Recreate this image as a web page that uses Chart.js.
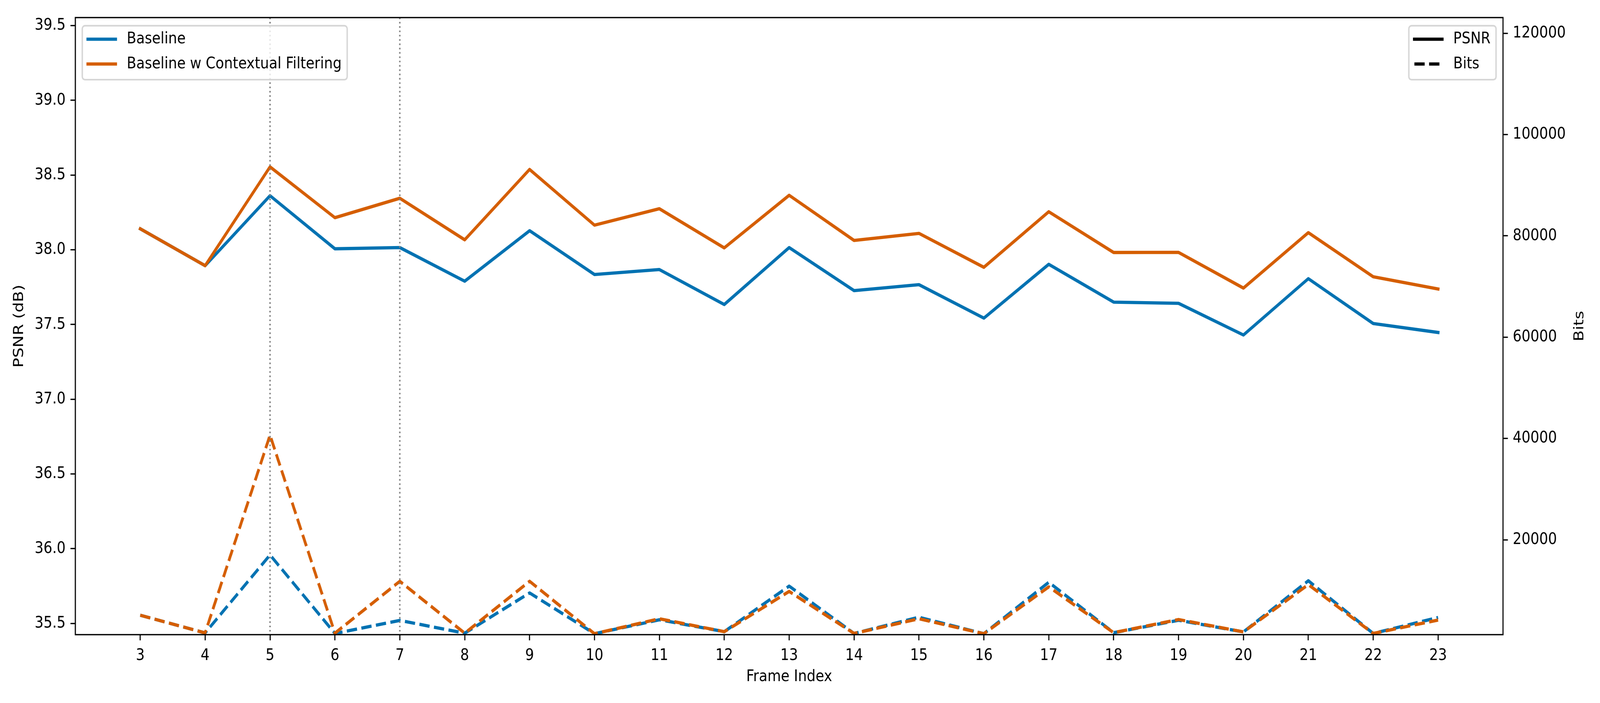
<!DOCTYPE html>
<html>
<head>
<meta charset="utf-8">
<script src="https://cdn.jsdelivr.net/npm/chart.js@4.4.1/dist/chart.umd.min.js"></script>
<style>
    html, body { margin: 0; padding: 0; background: #fff; overflow: hidden; }
    /* the drawing is made at 4800x1800 and shown at whatever size the window has */
    #psnrChart { display: block; width: 100vw !important; height: 100vh !important; }
</style>
</head>
<body>
<canvas id="psnrChart" width="4800" height="1800" style="display:block;width:100vw;height:100vh"></canvas>
<script>
const frames = [3, 4, 5, 6, 7, 8, 9, 10, 11, 12, 13, 14, 15, 16, 17, 18, 19, 20, 21, 22, 23];
const baselinePsnr = [38.141, 37.894, 38.362, 38.007, 38.015, 37.790, 38.128, 37.835, 37.868, 37.634, 38.015,
    37.727, 37.767, 37.543, 37.903, 37.650, 37.642, 37.430, 37.807, 37.507, 37.447];
const filteredPsnr = [38.141, 37.894, 38.555, 38.215, 38.345, 38.067, 38.538, 38.165, 38.275, 38.013, 38.365,
    38.063, 38.110, 37.883, 38.255, 37.982, 37.983, 37.744, 38.115, 37.820, 37.738];
const baselineBits = [5100, 1600, 17000, 1500, 4070, 1550, 9500, 1450, 4200, 1850, 10850,
    1500, 4700, 1450, 11600, 1650, 4100, 1800, 11900, 1500, 4650];
const filteredBits = [5100, 1600, 40650, 1550, 11800, 1550, 11800, 1450, 4400, 1850, 9800,
    1500, 4400, 1450, 10700, 1650, 4250, 1800, 11150, 1500, 4150];
const psnrTicks = [35.5, 36.0, 36.5, 37.0, 37.5, 38.0, 38.5, 39.0, 39.5];
const bitsTicks = [20000, 40000, 60000, 80000, 100000, 120000];
const markedFrames = [5, 7];
const seriesNames = ["Baseline", "Baseline w Contextual Filtering"];
const metricNames = ["PSNR", "Bits"];

const PT = 300 / 72;          // figure was saved at 300 dpi
const FS = 10 * PT;           // 10pt text
const LW = 2 * PT;            // line width
const DASH = [3.7 * LW, 1.6 * LW];
const BLUE = "#0072B2";
const ORANGE = "#D55E00";

Chart.defaults.font.family = "'DejaVu Sans', sans-serif";
Chart.defaults.font.size = FS;
Chart.defaults.color = "#000";

const pts = (ys) => frames.map((f, i) => ({ x: f, y: ys[i] }));

function lineSet(label, ys, color, axis, dashed, order) {
    return {
        label: label,
        data: pts(ys),
        yAxisID: axis,
        borderColor: color,
        backgroundColor: color,
        borderWidth: LW,
        borderDash: dashed ? DASH : [],
        borderCapStyle: dashed ? "butt" : "square",
        borderJoinStyle: "round",
        pointRadius: 0,
        tension: 0,
        fill: false,
        clip: 0,
        order: order,
    };
}

const axisGrid = {
    drawOnChartArea: false,
    drawTicks: true,
    tickLength: 3.5 * PT,
    tickWidth: 0.8 * PT,
    tickColor: "#000",
    color: "#000",
};

// dotted markers, frame box, right axis label and the two legends
const decorations = {
    id: "decorations",
    afterDatasetsDraw(chart) {
        const ctx = chart.ctx;
        const area = chart.chartArea;
        const x = chart.scales.x;
        ctx.save();
        ctx.strokeStyle = "gray";
        ctx.lineWidth = PT;
        ctx.setLineDash([PT, 1.65 * PT]);
        markedFrames.forEach((f) => {
            const px = x.getPixelForValue(f);
            ctx.beginPath();
            ctx.moveTo(px, area.top);
            ctx.lineTo(px, area.bottom);
            ctx.stroke();
        });
        ctx.setLineDash([]);
        ctx.strokeStyle = "#000";
        ctx.lineWidth = 0.8 * PT;
        ctx.strokeRect(area.left, area.top, area.right - area.left, area.bottom - area.top);
        ctx.restore();
    },
    afterDraw(chart) {
        const ctx = chart.ctx;
        const area = chart.chartArea;
        const pad = 0.4 * FS, gap = 0.5 * FS, hl = 2 * FS, htp = 0.8 * FS;
        ctx.save();
        ctx.font = FS + "px 'DejaVu Sans'";
        ctx.fillStyle = "#000";

        // matplotlib twin-axis label reads bottom to top
        ctx.save();
        ctx.translate(chart.scales.y1.right - 61, (area.top + area.bottom) / 2);
        ctx.rotate(-Math.PI / 2);
        ctx.textAlign = "center";
        ctx.textBaseline = "middle";
        ctx.fillText(metricNames[1], 0, 0);
        ctx.restore();

        ctx.textBaseline = "middle";
        function box(items, right) {
            const tw = Math.max(...items.map((it) => ctx.measureText(it.label).width));
            const w = pad + hl + htp + tw + pad;
            const h = 138.2;
            const x0 = right ? area.right - gap - w : area.left + gap;
            const y0 = area.top + gap;
            ctx.beginPath();
            ctx.roundRect(x0, y0, w, h, 8);
            ctx.fillStyle = "rgba(255,255,255,0.8)";
            ctx.fill();
            ctx.strokeStyle = "rgba(204,204,204,0.8)";
            ctx.lineWidth = PT;
            ctx.stroke();
            items.forEach((it, i) => {
                const cy = y0 + 34.5 + i * 63.5;
                ctx.beginPath();
                ctx.strokeStyle = it.color;
                ctx.lineWidth = LW;
                ctx.setLineDash(it.dashed ? DASH : []);
                ctx.lineCap = it.dashed ? "butt" : "square";
                ctx.moveTo(x0 + pad, cy);
                ctx.lineTo(x0 + pad + hl, cy);
                ctx.stroke();
                ctx.setLineDash([]);
                ctx.fillStyle = "#000";
                ctx.fillText(it.label, x0 + pad + hl + htp, cy);
            });
        }

        box([
            { label: seriesNames[0], color: BLUE, dashed: false },
            { label: seriesNames[1], color: ORANGE, dashed: false },
        ], false);
        box([
            { label: metricNames[0], color: "#000", dashed: false },
            { label: metricNames[1], color: "#000", dashed: true },
        ], true);
        ctx.restore();
    },
};

new Chart(document.getElementById("psnrChart"), {
    type: "line",
    data: {
        datasets: [
            lineSet(seriesNames[0] + " " + metricNames[0], baselinePsnr, BLUE, "y", false, 1),
            lineSet(seriesNames[1] + " " + metricNames[0], filteredPsnr, ORANGE, "y", false, 0),
            lineSet(seriesNames[0] + " " + metricNames[1], baselineBits, BLUE, "y1", true, 1),
            lineSet(seriesNames[1] + " " + metricNames[1], filteredBits, ORANGE, "y1", true, 0),
        ],
    },
    plugins: [decorations],
    options: {
        responsive: false,
        devicePixelRatio: 1,
        animation: false,
        layout: { padding: { top: 45, left: 0, right: 0, bottom: 0 } },
        scales: {
            x: {
                type: "linear",
                position: "bottom",
                min: 2,
                max: 24,
                afterBuildTicks: (axis) => { axis.ticks = frames.map((v) => ({ value: v })); },
                afterFit: (axis) => { axis.height = 175; },
                grid: axisGrid,
                border: { display: false },
                ticks: { padding: 3.5 * PT, maxRotation: 0, autoSkip: false, callback: (v) => String(v) },
                title: { display: true, text: "Frame Index", padding: { top: 0, bottom: 42 } },
            },
            y: {
                type: "linear",
                position: "left",
                min: 35.425,
                max: 39.554,
                afterBuildTicks: (axis) => { axis.ticks = psnrTicks.map((v) => ({ value: v })); },
                afterFit: (axis) => { axis.width = 226; },
                grid: axisGrid,
                border: { display: false },
                ticks: { padding: 3.5 * PT, callback: (v) => v.toFixed(1) },
                title: { display: true, text: "PSNR (dB)", padding: { top: 33, bottom: 0 } },
            },
            y1: {
                type: "linear",
                position: "right",
                min: 1262,
                max: 123100,
                afterBuildTicks: (axis) => { axis.ticks = bitsTicks.map((v) => ({ value: v })); },
                afterFit: (axis) => { axis.width = 291; },
                grid: axisGrid,
                border: { display: false },
                ticks: { padding: 3.5 * PT, callback: (v) => String(v) },
                title: { display: false },
            },
        },
        plugins: {
            legend: { display: false },
            tooltip: { enabled: false },
        },
    },
});
</script>
</body>
</html>
